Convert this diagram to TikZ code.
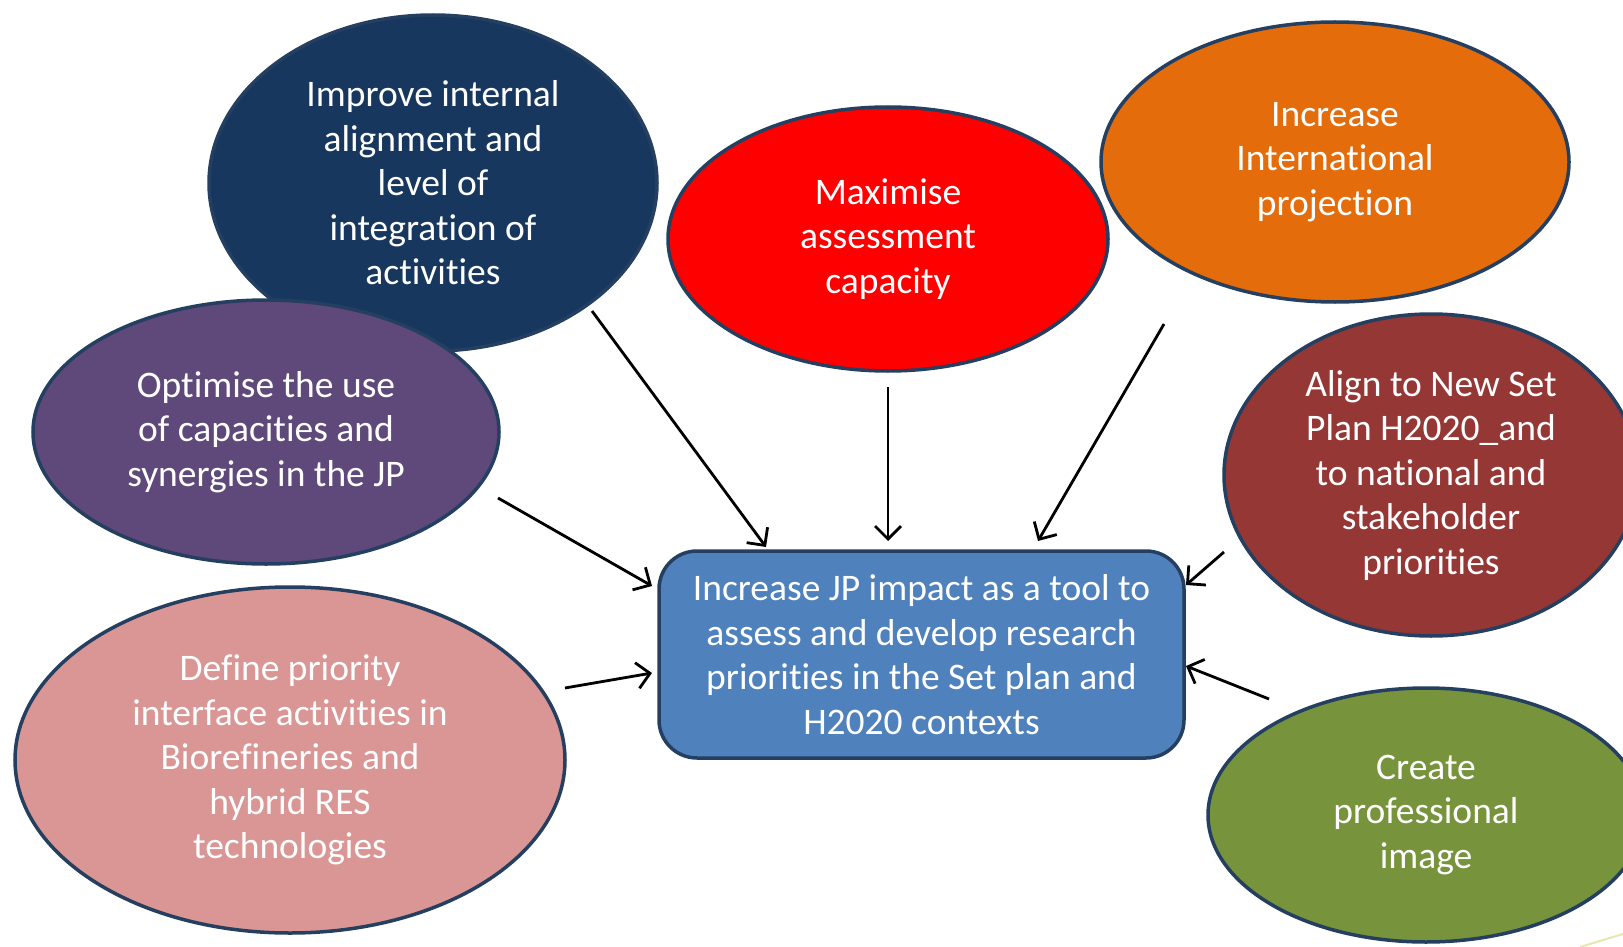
\documentclass[tikz,border=0pt]{standalone}
\usepackage{fontspec}
\setmainfont{Carlito}[Ligatures=NoCommon]
\usetikzlibrary{shapes.geometric, arrows.meta}
\definecolor{edge}{HTML}{243F60}
\definecolor{navy}{HTML}{17375E}
\definecolor{plum}{HTML}{5F497A}
\definecolor{rose}{HTML}{D99694}
\definecolor{flame}{HTML}{E46C0A}
\definecolor{brick}{HTML}{953735}
\definecolor{olive}{HTML}{77933C}
\definecolor{steel}{HTML}{4F81BD}
\tikzstyle{goal} = [ellipse, draw=edge, line width=3.5pt, inner sep=0, text=white, align=center, font=\fontsize{37.5}{44.5}\selectfont]
\tikzstyle{hubbox} = [rectangle, rounded corners=38pt, draw=edge, line width=3.5pt, fill=steel, text=white, align=center, minimum width=525pt, minimum height=207pt, font=\fontsize{37.5}{44.5}\selectfont]
\tikzstyle{arrow} = [line width=2.8pt, -{Straight Barb[length=13pt,width=26pt]}]

\begin{document}
\begin{tikzpicture}[x=1pt,y=-1pt]
\useasboundingbox (0,0) rectangle (1623,947);
\clip (0,0) rectangle (1623,947);
\node[goal, fill=navy, minimum width=448pt, minimum height=336pt] (imp) at (433,183) {Improve internal\\alignment and\\level of\\integration of\\activities};
\node[goal, fill=plum, minimum width=466pt, minimum height=264pt] (opt) at (266,432) {Optimise the use\\of capacities and\\synergies in the JP};
\node[goal, fill=rose, minimum width=550pt, minimum height=346pt] (def) at (290,760) {Define priority\\interface activities in\\Biorefineries and\\hybrid RES\\technologies};
\node[goal, fill=red, minimum width=440pt, minimum height=264pt] (max) at (888,239) {Maximise\\assessment\\capacity};
\node[goal, fill=flame, minimum width=468pt, minimum height=280pt] (intl) at (1335,162) {Increase\\International\\projection};
\node[goal, fill=brick, minimum width=414pt, minimum height=322pt] (align) at (1431,475) {Align to New Set\\Plan H2020\_and\\to national and\\stakeholder\\priorities};
\node[goal, fill=olive, minimum width=436pt, minimum height=254pt] (img) at (1426,815) {Create\\professional\\image};
\node[hubbox] (hub) at (921.5,654.5) {Increase JP impact as a tool to\\assess and develop research\\priorities in the Set plan and\\H2020 contexts};
% arrow ends
\coordinate (s1) at (592,311); \coordinate (e1) at (766,547);
\coordinate (s2) at (888,387); \coordinate (e2) at (888,541);
\coordinate (s3) at (1164,324); \coordinate (e3) at (1038,541);
\coordinate (s4) at (498,498); \coordinate (e4) at (652,586);
\coordinate (s5) at (565,688); \coordinate (e5) at (652,673);
\coordinate (s6) at (1224,552); \coordinate (e6) at (1186,585);
\coordinate (s7) at (1269,699); \coordinate (e7) at (1186,666);
\draw[arrow] (s1)--(e1);
\draw[arrow] (s2)--(e2);
\draw[arrow] (s3)--(e3);
\draw[arrow] (s4)--(e4);
\draw[arrow] (s5)--(e5);
\draw[arrow] (s6)--(e6);
\draw[arrow] (s7)--(e7);
\draw[yellow!50!olive!40, line width=2pt] (1580,947)--(1623,934);
\end{tikzpicture}
\end{document}
